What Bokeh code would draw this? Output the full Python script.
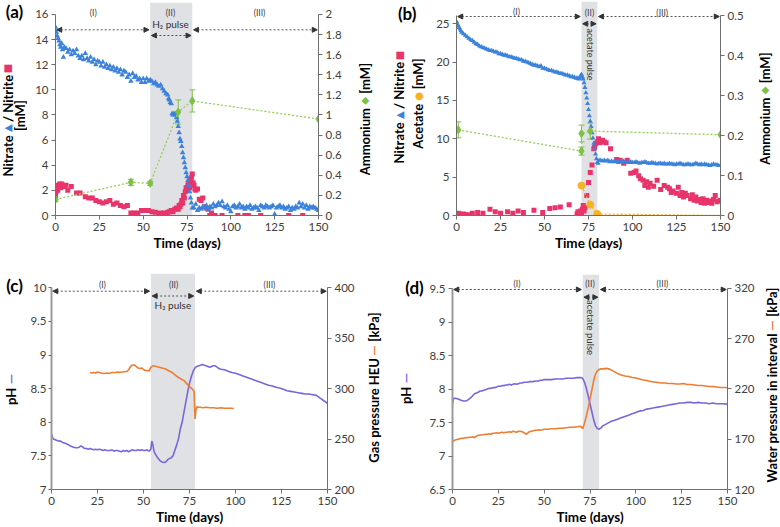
import math
from bokeh.plotting import figure
from bokeh.models import (Range1d, LinearAxis, FixedTicker, CustomJSTickFormatter,
                          BoxAnnotation, Label, Arrow, NormalHead, Whisker, TeeHead,
                          ColumnDataSource)
from bokeh.layouts import row, column
from bokeh.embed import file_html
from bokeh.resources import INLINE

FONT = "Lato"
SYM = "DejaVu Sans"

C_NO3 = "#3b82dc"
C_NO2 = "#e8346b"
C_NH4 = "#7cc142"
C_NH4L = "#92d050"
C_AC = "#f5b324"
C_PH = "#7b66d9"
C_P = "#ed7d31"
C_SHADE = "#dfe1e4"

# ---------------- data ----------------
day_ticks = [0, 25, 50, 75, 100, 125, 150]

# panel (a)
a_phases = [0, 54, 78, 150]
a_no3_day = [0, 0.5, 1, 1.5, 2, 2.5, 3, 3.5, 4, 4.5,
             5, 6, 7, 8, 9, 10, 11, 12, 13, 14,
             15, 16, 17, 18, 19, 20, 21, 22, 23, 24,
             25, 26, 27, 28, 29, 30, 31, 32, 33, 34,
             35, 36, 37, 38, 39, 40, 41, 42, 43, 44,
             45, 46, 47, 48, 49, 50, 51, 52, 53, 54,
             55, 56, 57, 58, 59, 60, 61, 62, 63, 64,
             64.5, 65, 65.5, 66, 66.5, 67, 67.5, 68, 68.5, 69, 69.5, 70, 70.5, 71,
             71.5, 72, 72.5, 73, 73.5, 74, 74.5, 75, 75.5, 76, 76.5, 77, 77.5, 78,
             79, 80, 81, 82, 83, 84, 85, 86, 87, 88,
             89, 90, 91, 92, 93, 94, 95, 96, 97, 98,
             99, 100, 101, 102, 103, 104, 105, 106, 107, 108,
             109, 110, 111, 112, 113, 114, 115, 116, 117, 118,
             119, 120, 121, 122, 123, 124, 125, 126, 127, 128,
             129, 130, 131, 132, 133, 134, 135, 136, 137, 138,
             139, 140, 141, 142, 143, 144, 145, 146, 147, 148,
             149, 150]
a_no3 = [15.0, 14.6, 14.3, 14.1, 13.9, 13.6, 13.4, 13.7, 13.2, 12.6,
         13.4, 13.3, 13.0, 13.2, 12.8, 13.1, 12.9, 13.2, 12.7, 12.5,
         12.7, 12.4, 12.9, 12.5, 12.3, 12.6, 12.2, 12.4, 12.0, 12.3,
         12.2, 11.9, 12.2, 11.8, 12.0, 11.7, 11.9, 11.6, 11.8, 11.5,
         11.7, 11.4, 11.6, 11.2, 11.5, 11.4, 11.0, 11.2, 10.7, 11.3,
         11.0, 11.1, 10.8, 10.9, 10.6, 10.9, 10.6, 10.9, 10.7, 10.8,
         10.7, 10.5, 10.6, 10.4, 10.3, 10.4, 10.1, 9.9, 9.7, 9.6,
         9.3, 9.2, 9.0, 8.9, 8.1, 8.0, 8.1, 8.0, 8.1, 7.8, 7.5, 7.1, 6.6, 6.1,
         5.9, 5.5, 5.0, 4.6, 4.2, 3.8, 3.4, 3.1, 2.8, 2.4, 1.9, 1.4, 1.0, 0.6,
         0.6, 0.9, 0.4, 0.6, 0.5, 0.7, 0.6, 0.8, 0.5, 0.7,
         0.6, 0.9, 0.7, 0.8, 1.0, 0.8, 1.1, 0.7, 0.6, 0.8,
         0.5, 0.3, 0.7, 0.8, 0.6, 0.7, 0.9, 0.6, 0.7, 0.5,
         0.7, 0.6, 0.8, 0.5, 0.6, 0.7, 0.6, 0.4, 0.8, 0.7,
         0.6, 0.8, 0.7, 0.6, 0.7, 0.8, 0.1, 0.6, 0.7, 0.8,
         0.6, 0.7, 0.5, 0.6, 0.7, 0.4, 0.6, 0.5, 0.7, 0.6,
         1.0, 0.7, 0.9, 0.6, 0.8, 0.5, 0.7, 0.6, 0.7, 0.6,
         0.5, 0.4]
a_no2_day = [0, 0.3, 0.6, 1, 1.3, 1.6, 2, 2.4, 3, 3.5,
             4, 5, 6, 7, 9, 12, 14, 17, 19, 21,
             23, 25, 27, 29, 31, 33, 35, 37, 39, 41,
             43, 45, 47, 49, 51, 53, 55, 57, 59, 60,
             61, 62, 63, 64, 65, 66, 67, 68, 69, 70,
             70.5, 71, 71.5, 72, 72.5, 73, 73.5, 74, 74.5, 75,
             75.5, 76, 76.5, 77, 77.5, 78, 78.5, 79, 79.5, 80,
             81, 82, 83, 84, 85, 86, 87, 88, 89, 91,
             95, 104, 108, 110, 117, 133, 141]
a_no2 = [1.6, 1.9, 2.1, 2.2, 2.0, 2.4, 2.3, 2.5, 2.2, 2.5,
         2.4, 2.3, 2.4, 2.0, 2.3, 1.8, 1.8, 1.5, 1.4, 1.4,
         1.2, 1.1, 1.0, 1.1, 1.2, 0.9, 1.0, 0.8, 0.7, 0.8,
         0.2, 0.2, 0.2, 0.4, 0.4, 0.4, 0.3, 0.25, 0.15, 0.2,
         0.1, 0.2, 0.15, 0.25, 0.3, 0.4, 0.3, 0.5, 0.6, 0.5,
         0.8, 0.7, 0.9, 1.2, 1.0, 1.6, 1.4, 1.9, 2.2, 2.0,
         2.4, 2.6, 2.2, 2.8, 3.0, 3.3, 2.6, 2.4, 2.1, 2.0,
         2.1, 1.3, 1.2, 1.4, 0.7, 0.6, 0.5, 0.0, 0.2, 0.0,
         0.0, 0.0, 0.0, 0.0, 0.0, 0.0, 0.0]
a_nh4_day = [0, 43, 54, 70, 78, 150]
a_nh4 = [0.16, 0.33, 0.32, 1.03, 1.14, 0.96]
a_nh4_err = [0.02, 0.03, 0.02, 0.12, 0.11, 0.0]

# panel (b)
b_phases = [0, 71, 80, 150]
b_no3_day = [0, 0.5, 1, 1.5, 2, 2.5, 3,
             4, 5, 6, 7, 8, 9, 10, 11, 12, 13,
             14, 15, 16, 17, 18, 19, 20, 21, 22, 23,
             24, 25, 26, 27, 28, 29, 30, 31, 32, 33,
             34, 35, 36, 37, 38, 39, 40, 41, 42, 43,
             44, 45, 46, 47, 48, 49, 50, 51, 52, 53,
             54, 55, 56, 57, 58, 59, 60, 61, 62, 63,
             64, 65, 66, 67, 68, 69,
             69.5, 70, 70.5, 71, 71.5, 72, 72.5, 73, 73.5, 74, 74.5, 75,
             75.5, 76, 76.5, 77, 77.5, 78, 78.5, 79, 79.5, 80, 80.5, 81,
             82, 83, 84, 85, 86, 87, 88, 89, 90, 91,
             92, 93, 94, 95, 96, 97, 98, 99, 100, 101,
             102, 103, 104, 105, 106, 107, 108, 109, 110, 111,
             112, 113, 114, 115, 116, 117, 118, 119, 120, 121,
             122, 123, 124, 125, 126, 127, 128, 129, 130, 131,
             132, 133, 134, 135, 136, 137, 138, 139, 140, 141,
             142, 143, 144, 145, 146, 147, 148, 149, 150]
b_no3 = [25.3, 25.0, 24.7, 24.5, 24.3, 24.1, 23.9,
         23.7, 23.5, 23.3, 23.1, 22.9, 22.8, 22.6, 22.4, 22.3, 22.1,
         22.0, 21.9, 21.8, 21.7, 21.6, 21.5, 21.5, 21.4, 21.3, 21.3,
         21.1, 21.1, 21.0, 20.9, 20.9, 20.8, 20.7, 20.7, 20.6, 20.5,
         20.5, 20.4, 20.3, 20.3, 20.1, 20.1, 20.0, 19.9, 19.8, 19.7,
         19.6, 19.6, 19.5, 19.4, 19.5, 19.2, 19.2, 19.1, 19.0, 18.9,
         18.9, 18.8, 18.7, 18.7, 18.6, 18.5, 18.5, 18.4, 18.3, 18.3,
         18.2, 18.1, 18.1, 18.0, 17.9, 17.9,
         17.8, 17.9, 18.2, 18.4, 18.1, 17.8, 17.3, 16.7, 16.0, 15.3, 14.6, 13.8,
         13.0, 12.3, 11.6, 10.8, 10.1, 9.4, 8.7, 8.0, 7.4, 6.9, 6.8, 7.2,
         7.2, 7.1, 7.2, 7.1, 7.2, 7.0, 7.1, 7.0, 7.1, 7.0,
         6.9, 7.0, 7.0, 7.1, 7.0, 6.9, 6.9, 7.0, 6.9, 6.9,
         7.0, 6.9, 6.8, 6.9, 6.9, 7.0, 6.9, 6.8, 6.8, 6.9,
         6.8, 6.8, 6.7, 6.8, 6.8, 6.7, 6.8, 6.7, 6.7, 6.8,
         6.7, 6.7, 6.6, 6.7, 6.7, 6.8, 6.7, 6.6, 6.6, 6.7,
         6.7, 6.6, 6.6, 6.7, 6.8, 6.7, 6.6, 6.7, 6.6, 6.7,
         6.6, 6.6, 6.5, 6.6, 6.7, 6.6, 6.6, 6.5, 6.5]
b_no2_day = [0, 0.5, 1, 1.5, 2, 3, 4, 5, 7, 9,
             12, 15, 19, 22, 25, 29, 32, 35, 38, 44,
             49, 53, 56, 59, 64, 68.5, 69, 69.5, 70, 70.5,
             71, 71.5, 72, 72.5, 73, 74, 75, 76, 77, 78,
             78.5, 79, 80, 80.7, 81.5, 83, 84, 85, 87.5, 91,
             93, 95, 97, 99, 101, 102, 103.5, 104.5, 106, 107,
             108, 109, 110, 112, 114, 116, 118, 120, 121, 122,
             123, 125, 126, 127, 128, 129, 130, 131, 133, 134,
             135, 136, 137, 138, 139, 140, 141, 142, 143, 144,
             145, 146, 147, 148, 149, 150]
b_no2 = [0.1, 0.2, 0.3, 0.1, 0.2, 0.1, 0.2, 0.1, 0.1, 0.3,
         0.4, 0.3, 0.8, 0.5, 0.3, 0.5, 0.3, 0.6, 0.4, 0.7,
         0.4, 0.9, 1.0, 1.1, 1.4, 0.2, 0.5, 0.1, 0.3, 0.6,
         0.4, 0.8, 1.3, 0.6, 1.0, 2.6, 4.3, 5.6, 6.6, 8.7,
         8.9, 9.4, 9.6, 10.0, 9.5, 9.8, 9.6, 9.5, 8.7, 7.3,
         7.2, 6.8, 7.2, 5.5, 5.6, 5.8, 5.2, 4.8, 4.6, 3.9,
         4.4, 3.7, 4.2, 3.8, 4.6, 3.4, 3.9, 3.7, 3.5, 3.0,
         3.2, 2.9, 3.7, 2.6, 3.0, 2.4, 2.9, 2.6, 2.2, 2.7,
         2.0, 2.4, 1.9, 2.1, 1.7, 2.2, 1.6, 2.0, 1.7, 1.9,
         1.6, 2.1, 2.6, 1.8, 1.9, 2.0]
b_ac_day = [71, 76, 80, 150]
b_ac = [3.9, 1.4, 0.2, 0.0]
b_nh4_day = [1, 71, 71, 76, 150]
b_nh4 = [0.214, 0.161, 0.205, 0.211, 0.202]
b_nh4_err = [0.02, 0.01, 0.021, 0.02, 0.0]

# panel (c)
c_phases = [0, 54, 78, 150]
c_ph_day = [0, 0.5, 1, 2, 3, 4, 5, 6, 7, 8, 9, 10, 11, 12, 13, 14, 15, 16, 17, 18,
            19, 20, 21, 22, 23, 24, 25, 26, 27, 28, 29, 30,
            32, 33, 34, 35, 36, 37, 38, 39, 40, 41, 42, 43, 44, 45, 46, 47, 48, 49,
            50, 51, 52, 53, 54, 54.5, 55, 55.5,
            56, 57, 58, 59, 60, 61, 62, 63, 64, 65, 66, 67, 68, 69, 70, 71, 72, 73,
            74, 75, 76, 77, 78, 79, 80, 81, 82, 83, 84, 85, 86, 87, 88, 89, 90, 91, 92,
            94, 96, 98, 100, 102, 104, 106, 108, 110, 112, 114, 116, 118, 120, 122,
            124, 126, 128, 130, 132, 134, 136, 138, 140, 142, 144, 146, 148, 150]
c_ph = [7.83, 7.78, 7.75,
        7.74, 7.73, 7.72, 7.72, 7.70, 7.69, 7.68, 7.67, 7.65, 7.64,
        7.63, 7.62, 7.62, 7.63, 7.65, 7.63, 7.61, 7.61, 7.60, 7.61,
        7.60, 7.59, 7.60, 7.59, 7.60, 7.59, 7.58, 7.59, 7.58,
        7.58, 7.59, 7.57, 7.58, 7.58, 7.57, 7.56, 7.58, 7.57, 7.58,
        7.56, 7.58, 7.59, 7.58, 7.58, 7.59, 7.58, 7.59, 7.58, 7.58,
        7.59, 7.57, 7.60,
        7.72, 7.68, 7.60,
        7.55, 7.50, 7.46, 7.43, 7.41, 7.40, 7.41, 7.44, 7.46, 7.47,
        7.50, 7.58, 7.66, 7.75, 7.90, 8.00, 8.15, 8.30, 8.45, 8.58,
        8.68, 8.76, 8.81, 8.83, 8.84, 8.85, 8.86, 8.85, 8.84, 8.83,
        8.82, 8.83, 8.84, 8.84, 8.82, 8.80, 8.79,
        8.78, 8.76, 8.74, 8.73, 8.71, 8.69, 8.67, 8.65, 8.63, 8.61,
        8.59, 8.57, 8.55, 8.54, 8.52, 8.51, 8.49, 8.47, 8.46, 8.45,
        8.44, 8.43, 8.42, 8.42, 8.41, 8.40, 8.36, 8.32, 8.28]
c_p_day = [21, 22, 23, 24, 25, 26, 27, 28, 29, 30,
           31, 32, 33, 34, 35, 36, 37, 38, 39, 40,
           41, 42, 43, 44, 45, 46, 47, 48, 49, 50,
           51, 52, 53, 54, 55, 56, 57, 58, 59, 60,
           61, 62, 63, 64, 65, 66, 67, 68, 69, 70,
           71, 72, 73, 74, 75, 76, 77,
           77.5, 78, 78.5, 79, 80, 81, 82,
           84, 86, 88, 90, 92, 94, 96, 98, 99]
c_p = [316, 315.5, 316, 315.5, 316.5, 316, 315.5, 315, 315, 315.5,
       315, 315.5, 316, 316, 316, 316.5, 316, 316.5, 316.5, 317,
       317, 319, 322, 323.5, 323.5, 322, 320.5, 320, 320.5, 319,
       318, 318, 317.5, 321, 322.5, 322.5, 322, 321.5, 321, 320.5,
       320, 319.5, 318.5, 317.5, 316.5, 315.5, 314, 312.5, 311, 310,
       309, 308, 306, 304, 302, 300.5, 298.5,
       297.5, 270, 279, 282, 281.5, 281.5, 281,
       281.5, 281, 281, 280.5, 281, 280.5, 280.5, 280.5, 280]

# panel (d)
d_phases = [0, 71, 80, 150]
d_day = [0, 0.5, 1, 2, 3, 4, 5, 6, 7, 8, 9, 10,
         11, 12, 13, 14, 15, 16, 17, 18, 19, 20,
         21, 22, 23, 24, 25, 26, 27, 28, 29, 30,
         31, 32, 33, 34, 35, 36, 37, 38, 39, 40,
         41, 42, 43, 44, 45, 46, 47, 48, 49, 50,
         52, 54, 56, 58, 60, 62, 64, 66, 68, 70,
         71, 72, 73, 74, 75, 76, 77, 78, 79, 80, 81, 82,
         84, 86, 88, 90, 92, 94, 96, 98, 100, 102,
         104, 106, 108, 110, 112, 114, 116, 118, 120, 122,
         124, 126, 128, 130, 132, 134, 136, 138, 140, 142,
         144, 146, 148, 150]
d_ph = [7.78, 7.86, 7.86, 7.86, 7.85, 7.84, 7.83, 7.82, 7.82, 7.83, 7.85, 7.87,
        7.90, 7.93, 7.94, 7.95, 7.97, 7.97, 7.98, 7.99, 8.00, 8.01,
        8.01, 8.02, 8.02, 8.03, 8.04, 8.04, 8.05, 8.05, 8.06, 8.06,
        8.07, 8.06, 8.07, 8.08, 8.07, 8.08, 8.09, 8.09, 8.10, 8.10,
        8.10, 8.11, 8.11, 8.11, 8.12, 8.12, 8.12, 8.13, 8.13, 8.14,
        8.14, 8.14, 8.15, 8.15, 8.15, 8.16, 8.16, 8.16, 8.17, 8.17,
        8.16, 8.10, 8.01, 7.90, 7.78, 7.66, 7.54, 7.45, 7.41, 7.40, 7.42, 7.45,
        7.48, 7.51, 7.53, 7.55, 7.57, 7.59, 7.61, 7.63, 7.65, 7.67,
        7.68, 7.70, 7.71, 7.72, 7.73, 7.74, 7.75, 7.76, 7.77, 7.78,
        7.79, 7.79, 7.80, 7.80, 7.79, 7.80, 7.79, 7.79, 7.78, 7.79,
        7.78, 7.78, 7.78, 7.77]
d_p = [167, 168, 169, 169.5, 170, 170.5, 171, 171, 171.5, 171.5, 172, 172,
       172.5, 171.5, 173, 174, 174, 174.5, 174.5, 175, 175, 175.5,
       175, 176, 176, 176.5, 176, 176.5, 177, 176.5, 177, 177,
       177.5, 177, 178, 177.5, 177, 178, 178, 177.5, 176.5, 175,
       176, 177.5, 178, 178.5, 179, 179, 179.5, 179, 179.5, 180,
       180, 180.5, 180.5, 181, 181, 181.5, 182, 182, 182.5, 183,
       180.5, 186, 193, 201, 210, 219, 228, 235, 238, 239.5, 240, 240,
       240.5, 239.5, 237.5, 235.5, 234, 233, 232.5, 231.5, 231, 230,
       229, 228.5, 227.5, 227, 226.5, 226, 226, 225.5, 225.5, 225,
       225, 225.5, 224.5, 224.5, 224, 223.5, 223.5, 223, 222.5, 222.5,
       222, 221.5, 221.5, 221.5]

# ---------------- helpers ----------------
LB = {' ': 0.19, 'N': 0.75, 'i': 0.26, 't': 0.36, 'r': 0.37, 'a': 0.51, 'e': 0.52,
      '/': 0.37, '[': 0.30, ']': 0.30, 'm': 0.82, 'M': 0.93, 'A': 0.71, 'o': 0.56,
      'n': 0.57, 'u': 0.57, 'c': 0.46, 'p': 0.56, 'H': 0.77, 's': 0.42, 'g': 0.52,
      'E': 0.60, 'U': 0.73, 'P': 0.62, 'k': 0.53, 'W': 1.05, 'l': 0.26, 'v': 0.51,
      'd': 0.57, 'y': 0.51, 'h': 0.57, 'G': 0.72, '\u2014': 0.80}


def tw(s, size):
    return sum(LB.get(ch, 0.55) for ch in s) * size


def pairs(x, y):
    n = min(len(x), len(y))
    return list(x[:n]), list(y[:n])


def no_align(fig):
    try:
        fig.frame_align = False
    except Exception:
        pass


def style_axis(ax, ticks, bounds, lw=1, lc="#6f6f6f", standoff=3, tick_out=4):
    ax.ticker = FixedTicker(ticks=ticks)
    ax.bounds = bounds
    ax.formatter = CustomJSTickFormatter(code="return String(Math.round(tick*1000)/1000);")
    ax.axis_line_color = lc
    ax.axis_line_width = lw
    ax.major_tick_line_color = "#6f6f6f"
    ax.major_tick_in = 0
    ax.major_tick_out = tick_out
    ax.minor_tick_line_color = None
    ax.major_label_text_font = FONT
    ax.major_label_text_font_size = "11.5px"
    ax.major_label_text_color = "#404040"
    ax.major_label_standoff = standoff


def mklabel(x, y, t, size, color, bold, angle, font):
    return Label(x=x, y=y, text=t, angle=angle, text_align="center", text_baseline="middle",
                 text_font=font, text_font_size=f"{size}px", text_color=color,
                 text_font_style="bold" if bold else "normal")


class TextBox:
    """A blank figure used as a canvas for the titles that lie outside a plot frame."""

    def __init__(self, ox, oy, w, h):
        self.ox, self.oy = ox, oy
        f = figure(width=w, height=h, x_range=Range1d(0, w), y_range=Range1d(h, 0),
                   output_backend="svg", toolbar_location=None,
                   x_axis_type=None, y_axis_type=None, min_border=0)
        no_align(f)
        f.outline_line_color = None
        f.background_fill_color = "white"
        f.border_fill_color = "white"
        self.f = f

    def text(self, px, py, t, size=13, color="black", bold=True, angle=0.0, font=FONT):
        self.f.add_layout(mklabel(px - self.ox, py - self.oy, t, size, color, bold, angle, font))

    def vtitle(self, px, pyc, pieces, size=13, gap=3.5):
        ws = [(0.78 * 10 if sym else tw(t, size)) for t, col, sym in pieces]
        total = sum(ws) + gap * (len(pieces) - 1)
        cur = pyc + total / 2.0
        for (t, col, sym), w in zip(pieces, ws):
            c = cur - w / 2.0
            if sym:
                self.text(px, c, t, 10, col, False, math.pi / 2, SYM)
            else:
                self.text(px, c, t, size, col, True, math.pi / 2, FONT)
            cur -= w + gap


class Panel:
    def __init__(self, ox, oy, w, h, frame, yl, yr, lticks, rticks, lb, rb,
                 lw=1, lc="#6f6f6f", lstand=3, ltick=4):
        self.fl, self.fr, self.ft, self.fb = frame
        self.yl = yl
        p = figure(width=w, height=h, x_range=Range1d(0, 150), y_range=Range1d(*yl),
                   output_backend="svg", toolbar_location=None,
                   min_border_left=self.fl - ox, min_border_right=ox + w - self.fr,
                   min_border_top=self.ft - oy, min_border_bottom=oy + h - self.fb)
        no_align(p)
        p.outline_line_color = None
        p.xgrid.visible = False
        p.ygrid.visible = False
        p.background_fill_color = "white"
        p.border_fill_color = "white"
        xa = p.below[0]
        style_axis(xa, day_ticks, (0, 150))
        xa.axis_label = "Time (days)"
        xa.axis_label_text_font = FONT
        xa.axis_label_text_font_style = "bold"
        xa.axis_label_text_font_size = "13.5px"
        xa.axis_label_text_color = "black"
        xa.axis_label_standoff = 1
        style_axis(p.left[0], lticks, lb, lw, lc, lstand, ltick)
        p.extra_y_ranges = {"r": Range1d(*yr)}
        ra = LinearAxis(y_range_name="r")
        style_axis(ra, rticks, rb)
        p.add_layout(ra, "right")
        self.p = p

    def X(self, px):
        return (px - self.fl) / (self.fr - self.fl) * 150.0

    def Y(self, py):
        return self.yl[0] + (self.fb - py) / (self.fb - self.ft) * (self.yl[1] - self.yl[0])

    def text(self, px, py, t, size=11, color="#333333", bold=False, angle=0.0, font=FONT):
        self.p.add_layout(mklabel(self.X(px), self.Y(py), t, size, color, bold, angle, font))

    def phases(self, ph, y_main, y_mid):
        self.p.add_layout(BoxAnnotation(left=ph[1], right=ph[2], fill_color=C_SHADE,
                                        fill_alpha=1.0, line_color=None, level="underlay"))
        for i in range(len(ph) - 1):
            y = self.Y(y_mid if i == 1 else y_main)
            self.p.add_layout(Arrow(
                start=NormalHead(size=5, fill_color="#333333", line_color="#333333"),
                end=NormalHead(size=5, fill_color="#333333", line_color="#333333"),
                x_start=ph[i] + 0.7, x_end=ph[i + 1] - 0.7, y_start=y, y_end=y,
                line_color="#555555", line_dash="2 2", line_width=1))

    def ammonium(self, day, val, err):
        p = self.p
        p.line(day, val, y_range_name="r", line_color=C_NH4L, line_dash="2 2", line_width=1.3)
        xs = [d for d, e in zip(day, err) if e > 0]
        lo = [v - e for v, e in zip(val, err) if e > 0]
        hi = [v + e for v, e in zip(val, err) if e > 0]
        src = ColumnDataSource(dict(x=xs, lo=lo, hi=hi))
        p.add_layout(Whisker(source=src, base="x", lower="lo", upper="hi", y_range_name="r",
                             line_color=C_NH4, line_width=1,
                             upper_head=TeeHead(size=6, line_color=C_NH4),
                             lower_head=TeeHead(size=6, line_color=C_NH4)))
        p.scatter(day, val, y_range_name="r", marker="diamond", size=8,
                  fill_color=C_NH4, line_color=C_NH4)


TOP_H = 264
BOT_H = 263
# shared column grid (same cell widths in both rows)
X1, X2, X3 = 0, 27, 357          # left half: title box, plot, title box
X4, X5, X6 = 390, 426, 757       # right half

# ---------------- panel (a) ----------------
LA = TextBox(X1, 0, X2 - X1, TOP_H)
A = Panel(X2, 0, X3 - X2, TOP_H, (55, 318, 2, 215), (0, 16.955), (0, 2.1194),
          [0, 2, 4, 6, 8, 10, 12, 14, 16], [0, 0.2, 0.4, 0.6, 0.8, 1, 1.2, 1.4, 1.6, 1.8, 2],
          (0, 16), (0, 2))
RA = TextBox(X3, 0, X4 - X3, TOP_H)
A.phases(a_phases, 29.3, 35)
x, y = pairs(a_no2_day, a_no2)
A.p.scatter(x, y, marker="square", size=5, fill_color=C_NO2, line_color=None)
x, y = pairs(a_no3_day, a_no3)
A.p.scatter(x, y, marker="triangle", size=5.5, fill_color=C_NO3, line_color=None)
A.ammonium(a_nh4_day, a_nh4, a_nh4_err)
A.text(92.7, 12.7, "(I)", 8.5, "#404040")
A.text(170, 12, "(II)", 8.5, "#404040")
A.text(259, 12.7, "(III)", 8.5, "#404040")
A.text(170, 23.5, "H\u2082 pulse", 10, "#333333")
LA.text(14, 10.5, "(a)", 17, "black", True)
LA.vtitle(7, 120, [("Nitrate", "black", False), ("\u25B2", C_NO3, True),
                   ("/ Nitrite", "black", False), ("\u25A0", C_NO2, True)])
LA.vtitle(19.5, 115, [("[mM]", "black", False)])
RA.vtitle(364, 118.5, [("Ammonium", "black", False), ("\u25C6", C_NH4, True),
                       ("[mM]", "black", False)])

# ---------------- panel (b) ----------------
LBX = TextBox(X4, 0, X5 - X4, TOP_H)
B = Panel(X5, 0, X6 - X5, TOP_H, (456, 720, 1, 215), (0, 27.908), (0, 0.535),
          [0, 5, 10, 15, 20, 25], [0, 0.1, 0.2, 0.3, 0.4, 0.5], (0, 26.08), (0, 0.5))
RB = TextBox(X6, 0, 780 - X6, TOP_H)
B.phases(b_phases, 16, 23.3)
x, y = pairs(b_no2_day, b_no2)
B.p.scatter(x, y, marker="square", size=5, fill_color=C_NO2, line_color=None)
x, y = pairs(b_no3_day, b_no3)
B.p.scatter(x, y, marker="triangle", size=5, fill_color=C_NO3, line_color=None)
B.p.line(b_ac_day, b_ac, line_color=C_AC, line_dash="2 2", line_width=1.3)
B.p.scatter(b_ac_day[:3], b_ac[:3], marker="circle", size=7, fill_color=C_AC, line_color=C_AC)
B.ammonium(b_nh4_day, b_nh4, b_nh4_err)
B.text(516, 11.7, "(I)", 8.5, "#404040")
B.text(589, 12, "(II)", 8.5, "#404040")
B.text(661.7, 12, "(III)", 8.5, "#404040")
B.text(590, 54, "acetate pulse", 9, "#333333", False, -math.pi / 2)
LBX.text(406.7, 13.3, "(b)", 17, "black", True)
LBX.vtitle(398.5, 107, [("Nitrate", "black", False), ("\u25B2", C_NO3, True),
                        ("/ Nitrite", "black", False), ("\u25A0", C_NO2, True)])
LBX.vtitle(417.5, 103, [("Acetate", "black", False), ("\u25CF", C_AC, True),
                        ("[mM]", "black", False)])
RB.vtitle(764, 108, [("Ammonium", "black", False), ("\u25C6", C_NH4, True),
                     ("[mM]", "black", False)])

# ---------------- panel (c) ----------------
LC = TextBox(X1, TOP_H, X2 - X1, BOT_H)
C = Panel(X2, TOP_H, X3 - X2, BOT_H, (48, 330, 273, 489), (7, 10.213), (200, 414.2),
          [7, 7.5, 8, 8.5, 9, 9.5, 10], [200, 250, 300, 350, 400], (7, 10), (200, 400),
          lw=2, lc="#9a9a9a", lstand=2, ltick=3)
RC = TextBox(X3, TOP_H, X4 - X3, BOT_H)
C.phases(c_phases, 290.7, 295.5)
x, y = pairs(c_ph_day, c_ph)
C.p.line(x, y, line_color=C_PH, line_width=1.6)
x, y = pairs(c_p_day, c_p)
C.p.line(x, y, y_range_name="r", line_color=C_P, line_width=1.6)
C.text(100, 284.3, "(I)", 8.5, "#404040")
C.text(172.7, 284.3, "(II)", 8.5, "#404040")
C.text(270.7, 284.3, "(III)", 8.5, "#404040")
C.text(172, 304.5, "H\u2082 pulse", 10, "#333333")
LC.text(14, 285, "(c)", 17, "black", True)
LC.vtitle(10, 389, [("pH", "black", False), ("\u2014", C_PH, False)])
RC.vtitle(373, 386.5, [("Gas pressure HEU", "black", False), ("\u2014", C_P, False),
                       ("[kPa]", "black", False)])

# ---------------- panel (d) ----------------
LD = TextBox(X4, TOP_H, X5 - X4, BOT_H)
D = Panel(X5, TOP_H, X6 - X5, BOT_H, (452, 728, 274, 489), (6.5, 9.709), (120, 333.9),
          [6.5, 7, 7.5, 8, 8.5, 9, 9.5], [120, 170, 220, 270, 320], (6.5, 9.5), (120, 320),
          lw=2, lc="#9a9a9a")
RD = TextBox(X6, TOP_H, 780 - X6, BOT_H)
D.phases(d_phases, 289, 296.7)
x, y = pairs(d_day, d_ph)
D.p.line(x, y, line_color=C_PH, line_width=1.6)
x, y = pairs(d_day, d_p)
D.p.line(x, y, y_range_name="r", line_color=C_P, line_width=1.6)
D.text(516.7, 283.3, "(I)", 8.5, "#404040")
D.text(590, 283.3, "(II)", 8.5, "#404040")
D.text(662.7, 283.3, "(III)", 8.5, "#404040")
D.text(591, 327, "acetate pulse", 9.5, "#333333", False, -math.pi / 2)
LD.text(414, 286.7, "(d)", 17, "black", True)
LD.vtitle(405, 388, [("pH", "black", False), ("\u2014", C_PH, False)])
RD.vtitle(771, 384, [("Water pressure in interval", "black", False), ("\u2014", C_P, False),
                     ("[kPa]", "black", False)])

layout = column(
    row(row(LA.f, A.p, RA.f), row(LBX.f, B.p, RB.f)),
    row(row(LC.f, C.p, RC.f), row(LD.f, D.p, RD.f)),
)
open("out.html", "w").write(file_html(layout, INLINE))
